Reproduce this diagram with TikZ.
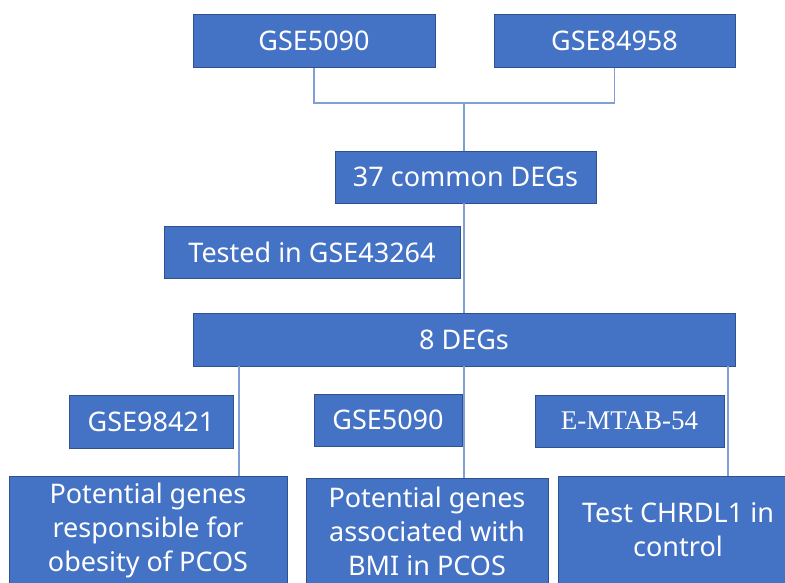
\documentclass[tikz,border=0pt]{standalone}
\usepackage{fontspec}
\setmainfont{Noto Sans}
\newfontfamily\serifx{Liberation Serif}
\definecolor{boxfill}{HTML}{4472C4}
\definecolor{boxline}{HTML}{2F528F}
\definecolor{conn}{HTML}{7F9FD6}
\begin{document}
\begin{tikzpicture}[x=1pt,y=-1pt,
  box/.style={draw=boxline, line width=0.8pt, fill=boxfill, text=white, inner sep=0pt,
    font=\fontsize{27}{34}\selectfont, align=center},
  conline/.style={draw=conn, line width=1.2pt}]
\useasboundingbox (0,0) rectangle (785,582);
\clip (0,0) rectangle (785,582);
% top sources
\node[box, minimum width=242pt, minimum height=53pt] (g1) at (314,41) {GSE5090};
\node[box, minimum width=241pt, minimum height=53pt] (g2) at (614.5,41) {GSE84958};
\node[box, minimum width=261pt, minimum height=52pt] (c37) at (465.5,177) {37 common DEGs};
\node[box, minimum width=296pt, minimum height=52pt] (tst) at (312,252) {Tested in GSE43264};
\node[box, minimum width=542pt, minimum height=53pt] (d8) at (464,339.5) {8 DEGs};
% middle labels
\node[box, minimum width=164pt, minimum height=53pt] (s1) at (151,421.5) {GSE98421};
\node[box, minimum width=148pt, minimum height=52pt] (s2) at (388,420) {GSE5090};
\node[box, minimum width=189pt, minimum height=52pt, font=\serifx\fontsize{27}{34}\selectfont] (s3) at (629.5,421) {E-MTAB-54};
% bottom results
\node[box, minimum width=278pt, minimum height=108pt] (r1) at (148,530) {Potential genes\\responsible for\\obesity of PCOS};
\node[box, minimum width=242pt, minimum height=106pt] (r2) at (427,531) {Potential genes\\associated with\\BMI in PCOS};
\node[box, minimum width=240pt, minimum height=108pt] (r3) at (678,530) {Test CHRDL1 in\\control};
% connectors
\coordinate (j) at (464,103);
\coordinate (l1) at (239,400);
\coordinate (l2) at (464,400);
\coordinate (l3) at (728,400);
\draw[conline] (g1.south) |- (j) -| (g2.south);
\draw[conline] (j) -- (j |- c37.north);
\draw[conline] (j |- c37.south) -- (j |- d8.north);
\draw[conline] (l1 |- d8.south) -- (l1 |- r1.north);
\draw[conline] (l2 |- d8.south) -- (l2 |- r2.north);
\draw[conline] (l3 |- d8.south) -- (l3 |- r3.north);
\end{tikzpicture}
\end{document}
